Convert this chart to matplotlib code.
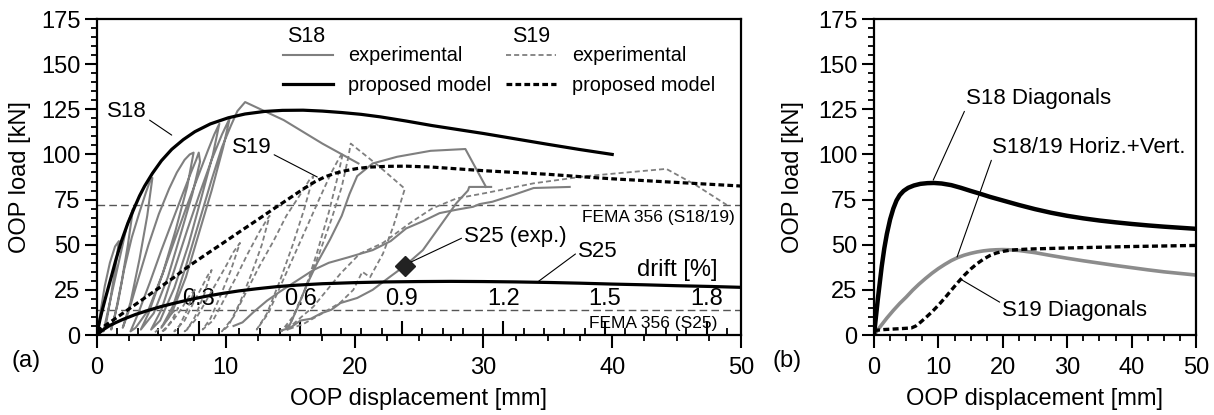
import numpy as np
import matplotlib
matplotlib.use("Agg")
import matplotlib.pyplot as plt
from matplotlib.ticker import MultipleLocator, FixedLocator, FormatStrFormatter

plt.rcParams['font.family'] = ['Liberation Sans', 'DejaVu Sans']

# -------------------------
# data (a): displacement [mm], load [kN]
# -------------------------
s18_model = np.array([(0, 0), (0.1, 4), (0.23, 8.5), (0.4, 13.5), (0.62, 19.5), (0.85, 25.5),
                      (1.14, 33), (1.5, 42.5), (1.9, 52), (2.4, 62), (2.9, 70.5), (3.3, 77),
                      (3.7, 82.5), (4.3, 89.5), (5.0, 96.5), (5.8, 102.8), (6.7, 108.2),
                      (7.6, 112.6), (8.8, 116.9), (10.2, 120.3), (11.5, 122.4), (13, 123.8),
                      (14.4, 124.4), (16, 124.5), (17.5, 124), (19, 123.2), (20.5, 122.2),
                      (22, 120.8), (24, 118.5), (26, 116), (28, 113.8), (30, 111.6),
                      (32.5, 108.6), (35, 105.6), (37.5, 102.7), (40, 100)])

s19_model = np.array([(0, 2), (0.5, 4.6), (1, 7), (2, 12), (3.3, 18.5), (4.6, 25), (5.9, 31.5),
                      (7.2, 38.5), (8.5, 44.8), (9.8, 51), (11.1, 57.3), (12.4, 63.5),
                      (13.7, 69.8), (15, 76), (16, 80.8), (16.9, 84.8), (17.7, 87.6),
                      (18.5, 89.6), (19.3, 91), (20.2, 92.2), (21.2, 93), (22.5, 93.4),
                      (24, 93.5), (26, 93), (28, 92), (30, 91), (32.5, 90), (35, 89),
                      (37.5, 87.7), (40, 86.5), (42.5, 85.5), (45, 84.5), (47.5, 83.5),
                      (50, 82.5)])

s25_model = np.array([(0, 0), (0.25, 1.6), (0.5, 3), (1, 5.3), (1.5, 7), (2, 8.6), (3, 11.4),
                      (4, 13.7), (5, 15.8), (6, 17.6), (7.2, 19.6), (8.5, 21.5), (9.8, 23.1),
                      (11, 24.4), (12.4, 25.6), (14, 26.8), (15.5, 27.6), (17.5, 28.4),
                      (20, 29), (22.5, 29.4), (25, 29.6), (27.5, 29.7), (30, 29.6),
                      (32.5, 29.4), (35, 29.1), (37.5, 28.7), (40, 28.2), (42.5, 27.8),
                      (45, 27.3), (47.5, 26.9), (50, 26.4)])

s18_exp = np.array([
    (0, 0), (0.3, 14), (0.6, 27), (1.0, 40), (1.4, 49), (1.7, 52),
    (1.4, 36), (1.0, 18), (0.7, 6), (0.5, 2),
    (0.9, 15), (1.4, 31), (1.9, 47), (2.3, 60), (2.6, 66), (2.8, 70),
    (2.4, 50), (1.9, 29), (1.4, 11), (1.1, 3),
    (1.6, 17), (2.1, 36), (2.7, 54), (3.3, 68), (3.8, 79), (4.1, 85), (4.3, 87),
    (3.9, 66), (3.3, 42), (2.6, 18), (2.0, 4),
    (2.5, 14), (3.2, 31), (4.0, 50), (4.8, 67), (5.6, 81), (6.2, 90), (6.8, 97), (7.2, 100), (7.5, 101),
    (7.0, 82), (6.1, 58), (5.1, 34), (4.0, 14), (3.0, 4), (2.6, 2),
    (3.2, 12), (4.1, 29), (5.0, 47), (5.9, 64), (6.7, 79), (7.3, 90), (7.7, 97), (7.9, 101), (8.0, 96),
    (7.4, 78), (6.5, 56), (5.5, 32), (4.4, 12), (3.4, 3),
    (4.0, 12), (4.9, 30), (5.9, 50), (6.9, 70), (7.8, 87), (8.6, 102), (9.1, 111), (9.5, 117),
    (9.0, 100), (8.1, 76), (7.1, 50), (6.0, 26), (4.9, 8), (4.2, 3),
    (5.0, 14), (6.0, 36), (7.0, 58), (8.0, 79), (8.9, 97), (9.7, 111), (10.3, 120),
    (9.8, 104), (8.9, 80), (7.9, 56), (6.9, 32), (5.8, 12), (5.0, 4),
    (5.9, 16), (6.9, 38), (7.9, 62), (8.9, 86), (9.7, 104), (10.4, 116), (10.9, 124), (11.5, 129),
    (14.5, 119), (17.5, 106), (20.3, 95)])

s19_exp = np.array([
    (4.5, 1.5), (5.2, 6), (5.8, 12), (6.3, 15), (5.8, 8), (5.3, 3), (5.0, 1.5),
    (5.9, 8), (6.6, 15), (7.2, 22), (7.6, 25), (7.0, 14), (6.4, 5), (6.0, 2),
    (6.8, 8), (7.5, 18), (8.1, 26), (8.6, 33), (8.9, 36), (8.3, 22), (7.6, 10), (7.0, 3), (6.8, 2),
    (7.6, 8), (8.4, 18), (9.2, 28), (10.0, 38), (10.6, 46), (11.1, 51),
    (10.4, 36), (9.6, 22), (8.8, 9), (8.2, 3),
    (9.0, 8), (9.9, 20), (10.8, 32), (11.7, 45), (12.6, 57), (13.2, 64), (13.4, 66),
    (12.8, 50), (12.0, 34), (11.1, 18), (10.2, 5), (9.7, 2),
    (10.6, 10), (11.6, 24), (12.6, 38), (13.7, 52), (14.7, 66), (15.8, 78), (16.5, 86), (16.8, 88),
    (16.1, 70), (15.2, 50), (14.2, 30), (13.2, 12), (12.4, 3),
    (13.3, 12), (14.3, 28), (15.3, 44), (16.3, 60), (17.3, 76), (18.2, 90), (18.8, 98), (19.1, 101),
    (18.7, 88), (18.0, 68), (17.1, 46), (16.1, 24), (15.0, 6), (14.3, 2),
    (15.2, 10), (16.2, 26), (17.2, 44), (18.2, 64), (19.0, 82), (19.5, 98), (19.7, 106),
    (21.8, 94), (23.9, 81), (23.0, 60), (22.2, 45), (21.2, 32), (20.6, 35), (19.9, 25),
    (18.9, 18), (17.5, 12), (16.0, 6), (14.7, 2.8),
    (16.8, 15.7), (18.9, 34), (20.4, 45), (22.2, 51), (24.3, 62), (26.0, 70), (27.9, 75.6),
    (30.3, 78.8), (33.9, 84), (38.0, 88), (44.2, 92), (46.5, 83), (48.9, 72)])

s25_exp_a = np.array([(14.3, 2.5), (15.0, 4), (15.8, 8), (16.6, 9), (17.4, 12), (18.2, 14),
                      (18.9, 17.7), (20.2, 20.5), (21.4, 25), (22.7, 32), (23.9, 38.3), (25.3, 47),
                      (26.6, 60), (27.9, 73), (28.8, 80), (28.9, 82), (30.6, 82)])
s25_exp_b = np.array([(14.8, 3), (15.5, 14), (16.3, 28), (17.1, 40), (18.1, 53), (19.0, 66),
                      (19.6, 78), (20.2, 88), (21.4, 95), (23.3, 98.7), (25.9, 102), (28.6, 103),
                      (30.2, 82)])
s25_exp_c = np.array([(10.6, 5), (11.3, 7), (12.2, 13), (13.2, 19), (14.2, 24), (15.5, 30),
                      (16.8, 36), (18.0, 40), (19.5, 43), (21.4, 47), (22.8, 52), (24.0, 59),
                      (25.3, 63), (26.6, 67.5), (28.0, 69.5), (29.2, 71), (29.7, 72.5), (30.7, 73.8),
                      (32.3, 77.5), (33.9, 81.4), (36.7, 82)])
s25_point = (23.9, 38.3)

fema_s1819 = 72
fema_s25 = 14

drift_mm = 26.3          # mm per 1 % drift
drift_ticks = [0.3, 0.6, 0.9, 1.2, 1.5, 1.8]

# -------------------------
# data (b)
# -------------------------
s18_diag = np.array([(0, 0), (0.3, 10), (0.6, 20), (0.9, 29), (1.2, 38), (1.6, 48), (2.0, 56),
                     (2.5, 64), (3.0, 70), (3.5, 74.5), (4.0, 77.5), (4.6, 79.8), (5.3, 81.5),
                     (6.2, 82.8), (7.2, 83.7), (8.3, 84.1), (9.3, 84.2), (10.5, 83.9), (12, 83),
                     (13.5, 81.5), (15, 79.8), (16.5, 78.2), (18, 76.5), (20, 74.5), (22.5, 72),
                     (25, 69.7), (27.5, 67.7), (30, 66), (32.5, 64.6), (35, 63.4), (37.5, 62.4),
                     (40, 61.5), (42.5, 60.7), (45, 60), (47.5, 59.4), (50, 58.8)])
s1819_hv = np.array([(0, 0), (1, 4.8), (2, 9.4), (3, 13.6), (4, 17.5), (5, 21), (6, 24.8),
                     (7, 28.2), (8, 31.3), (9, 34.2), (10, 36.8), (11, 39.1), (12, 41.2),
                     (13, 42.9), (14, 44.2), (15, 45.2), (16, 46), (17, 46.6), (18, 47),
                     (19, 47.2), (20, 47.3), (21, 47.2), (22.5, 46.8), (25, 45.6), (27.5, 44),
                     (30, 42.5), (32.5, 41.1), (35, 39.8), (37.5, 38.5), (40, 37.3),
                     (42.5, 36.1), (45, 35), (47.5, 34.1), (50, 33.2)])
s19_diag = np.array([(0, 2.5), (1.5, 3), (3, 3.3), (4.5, 3.6), (5.8, 3.9), (6.5, 5), (7.2, 7),
                     (8, 9.5), (9, 12.8), (10, 16.5), (11, 20.5), (12, 24.8), (13, 29), (14, 33),
                     (15, 36.5), (16, 39.5), (17, 42), (18, 44), (19, 45.4), (20, 46.3),
                     (21, 46.9), (22, 47.2), (24, 47.6), (27, 47.9), (30, 48.2), (35, 48.6),
                     (40, 49), (45, 49.3), (50, 49.6)])

grey = '#7f7f7f'
fs = 17      # ticks / axis labels
fa = 16      # annotations
fl = 14.3    # legend entries


def style(ax):
    ax.set_xlim(0, 50)
    ax.set_ylim(0, 175)
    ax.set_xticks(range(0, 51, 10))
    ax.set_yticks(range(0, 176, 25))
    ax.xaxis.set_minor_locator(MultipleLocator(2.5))
    ax.yaxis.set_minor_locator(MultipleLocator(5))
    ax.tick_params(which='major', direction='out', length=9, width=1.5, labelsize=fs)
    ax.tick_params(which='minor', direction='out', length=4.5, width=1.3)
    ax.tick_params(axis='x', which='major', pad=7)
    ax.tick_params(axis='y', which='major', pad=3)
    for s in ax.spines.values():
        s.set_linewidth(1.6)
    ax.set_xlabel('OOP displacement [mm]', fontsize=fs, labelpad=6)


fig = plt.figure(figsize=(12.14, 4.15), dpi=100)
ax1 = fig.add_axes([97 / 1214, 80 / 415, 644 / 1214, 316 / 415])
ax2 = fig.add_axes([874 / 1214, 80 / 415, 322 / 1214, 316 / 415])

# -------------------------
# (a)
# -------------------------
ax1.axhline(fema_s1819, color='#555555', lw=1, dashes=(5.5, 3))
ax1.axhline(fema_s25, color='#555555', lw=1, dashes=(5.5, 3))

l18e, = ax1.plot(s18_exp[:, 0], s18_exp[:, 1], color=grey, lw=1.5)
for p in (s25_exp_a, s25_exp_b, s25_exp_c):
    ax1.plot(p[:, 0], p[:, 1], color=grey, lw=1.5)
l19e, = ax1.plot(s19_exp[:, 0], s19_exp[:, 1], color=grey, lw=1.3, dashes=(2.8, 1.7))

l18m, = ax1.plot(s18_model[:, 0], s18_model[:, 1], color='black', lw=2.3)
l19m, = ax1.plot(s19_model[:, 0], s19_model[:, 1], color='black', lw=2.3, dashes=(1.8, 1.0))
ax1.plot(s25_model[:, 0], s25_model[:, 1], color='black', lw=2.3)
ax1.plot(*s25_point, 'D', color='#222222', ms=10)

# legend: group titles as text, entries as two legends
ax1.text(0.295, 0.944, 'S18', transform=ax1.transAxes, fontsize=15.5, ha='left', va='center')
ax1.text(0.644, 0.944, 'S19', transform=ax1.transAxes, fontsize=15.5, ha='left', va='center')
leg_kw = dict(loc='upper left', frameon=False, fontsize=fl, handlelength=2.5,
              labelspacing=0.55, borderpad=0, borderaxespad=0)
leg1 = ax1.legend([l18e, l18m], ['experimental', 'proposed model'],
                  bbox_to_anchor=(0.289, 0.913), handletextpad=0.75, **leg_kw)
ax1.add_artist(leg1)
ax1.legend([l19e, l19m], ['experimental', 'proposed model'],
           bbox_to_anchor=(0.635, 0.913), handletextpad=0.85, **leg_kw)

arrow = dict(arrowstyle='-', lw=0.8, color='black', shrinkA=0, shrinkB=0)
ax1.annotate('S18', xy=(5.8, 110.7), xytext=(2.33, 123.5), ha='center', va='center',
             fontsize=fa, arrowprops=dict(arrow, relpos=(1, 0.2)))
ax1.annotate('S19', xy=(17.1, 87.5), xytext=(12.0, 104.1), ha='center', va='center',
             fontsize=fa, arrowprops=dict(arrow, relpos=(1, 0.2)))
ax1.annotate('S25 (exp.)', xy=(24.4, 40.5), xytext=(32.5, 54.3), ha='center', va='center',
             fontsize=fa, arrowprops=dict(arrow, relpos=(0, 0.5)))
ax1.annotate('S25', xy=(34.2, 29.3), xytext=(38.9, 46), ha='center', va='center',
             fontsize=fa, arrowprops=dict(arrow, relpos=(0, 0.5)))

ax1.text(49.5, fema_s1819 - 7.2, 'FEMA 356 (S18/19)', ha='right', va='center', fontsize=12.5)
ax1.text(48.2, fema_s25 - 7.4, 'FEMA 356 (S25)', ha='right', va='center', fontsize=12.5)
ax1.text(48.2, 36, 'drift [%]', ha='right', va='center', fontsize=fs)

style(ax1)
ax1.set_ylabel('OOP load [kN]', fontsize=fs, labelpad=7)

sec = ax1.secondary_xaxis(0, functions=(lambda x: x / drift_mm, lambda d: d * drift_mm))
sec.spines['bottom'].set_visible(False)
sec.xaxis.set_major_locator(FixedLocator(drift_ticks))
sec.xaxis.set_major_formatter(FormatStrFormatter('%.1f'))
sec.xaxis.set_minor_locator(MultipleLocator(0.06))
sec.tick_params(which='major', direction='in', length=10, width=1.5, labelsize=fs, pad=-34)
sec.tick_params(which='minor', direction='in', length=5, width=1.3)

# -------------------------
# (b)
# -------------------------
ax2.plot(s1819_hv[:, 0], s1819_hv[:, 1], color='#8c8c8c', lw=2.6)
ax2.plot(s19_diag[:, 0], s19_diag[:, 1], color='black', lw=2.4, dashes=(1.8, 1.0))
ax2.plot(s18_diag[:, 0], s18_diag[:, 1], color='black', lw=3.2)

ax2.annotate('S18 Diagonals', xy=(9.2, 85.8), xytext=(25.5, 131.2), ha='center', va='center',
             fontsize=fa, arrowprops=dict(arrow, relpos=(0, 0)))
ax2.annotate('S18/19 Horiz.+Vert.', xy=(12.9, 43.2), xytext=(33.4, 104.1), ha='center',
             va='center', fontsize=fa, arrowprops=dict(arrow, relpos=(0, 0)))
ax2.annotate('S19 Diagonals', xy=(13.4, 31), xytext=(31.2, 13.8), ha='center', va='center',
             fontsize=fa, arrowprops=dict(arrow, relpos=(0, 0.8)))

style(ax2)
ax2.set_ylabel('OOP load [kN]', fontsize=fs, labelpad=10)

fig.text(12 / 1214, 1 - 361 / 415, '(a)', fontsize=fs, va='center', ha='left')
fig.text(773 / 1214, 1 - 361 / 415, '(b)', fontsize=fs, va='center', ha='left')

fig.savefig('out.png', dpi=100)
